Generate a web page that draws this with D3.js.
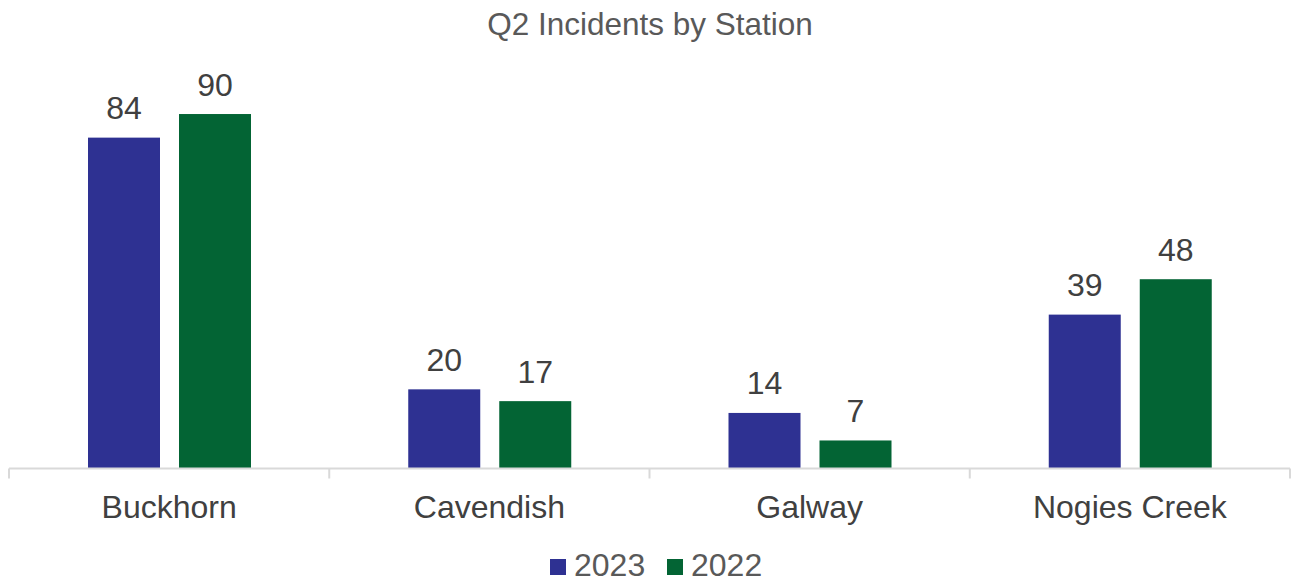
<!DOCTYPE html>
<html><head><meta charset="utf-8">
<script src="https://cdn.jsdelivr.net/npm/d3@7"></script>
<style>body{margin:0;background:#fff;font-family:"Liberation Sans",Arial,sans-serif;}</style>
</head><body><svg id="c" width="1294" height="582"></svg>
<script>
const categories = ["Buckhorn","Cavendish","Galway","Nogies Creek"];
const series = ["2023","2022"];
const values2023 = [84,20,14,39];
const values2022 = [90,17,7,48];
const colors = ["#2E3192","#036434"];

const svg = d3.select("#c");
const x0 = d3.scaleBand().domain(categories).range([9,1290]).paddingInner(0).paddingOuter(0);
const x1 = d3.scaleBand().domain(series).range([79, 242]).paddingInner(19/91).paddingOuter(0);
const y = d3.scaleLinear().domain([0,100]).range([468, 74.7]);

svg.append("text").attr("x",650).attr("y",35).attr("text-anchor","middle")
  .attr("font-size",31.5).attr("fill","#595959").text("Q2 Incidents by Station");

const data = categories.map((c,i)=>({c, vals:[values2023[i], values2022[i]]}));
const g = svg.selectAll("g.cat").data(data).enter().append("g")
  .attr("transform", d=>`translate(${x0(d.c)},0)`);
g.selectAll("rect").data(d=>d.vals.map((v,j)=>({s:series[j],v,j}))).enter().append("rect")
  .attr("x", d=>x1(d.s)).attr("width", x1.bandwidth())
  .attr("y", d=>y(d.v)).attr("height", d=>y(0)-y(d.v))
  .attr("fill", d=>colors[d.j]);
g.selectAll("text.lbl").data(d=>d.vals.map((v,j)=>({s:series[j],v,j}))).enter().append("text")
  .attr("class","lbl").attr("x", d=>x1(d.s)+x1.bandwidth()/2).attr("y", d=>y(d.v)-18.5)
  .attr("text-anchor","middle").attr("font-size",32).attr("fill","#404040").text(d=>d.v);

// axis
const axis = d3.axisBottom(x0).tickSize(0).tickFormat("");
const ax = svg.append("g").attr("transform","translate(0,468.5)").call(axis);
ax.select(".domain").attr("stroke","#d9d9d9").attr("stroke-width",2).attr("d","M9,0H1290");
ax.selectAll(".tick").remove();
const edges = [9].concat(categories.map(c=>x0(c)+x0.bandwidth()));
ax.selectAll("line.tk").data(edges).enter().append("line").attr("class","tk")
  .attr("x1",d=>d).attr("x2",d=>d).attr("y1",0).attr("y2",10).attr("stroke","#d9d9d9").attr("stroke-width",2);
svg.selectAll("text.cat").data(categories).enter().append("text").attr("class","cat")
  .attr("x", d=>x0(d)+x0.bandwidth()/2).attr("y",518).attr("text-anchor","middle")
  .attr("font-size",32).attr("fill","#404040").text(d=>d);

// legend
const leg = [{s:"2023",x:550},{s:"2022",x:667}];
leg.forEach((l,i)=>{
  svg.append("rect").attr("x",l.x).attr("y",559).attr("width",16).attr("height",16).attr("fill",colors[i]);
  svg.append("text").attr("x",l.x+24).attr("y",576).attr("font-size",32).attr("fill","#595959").text(l.s);
});
</script></body></html>
